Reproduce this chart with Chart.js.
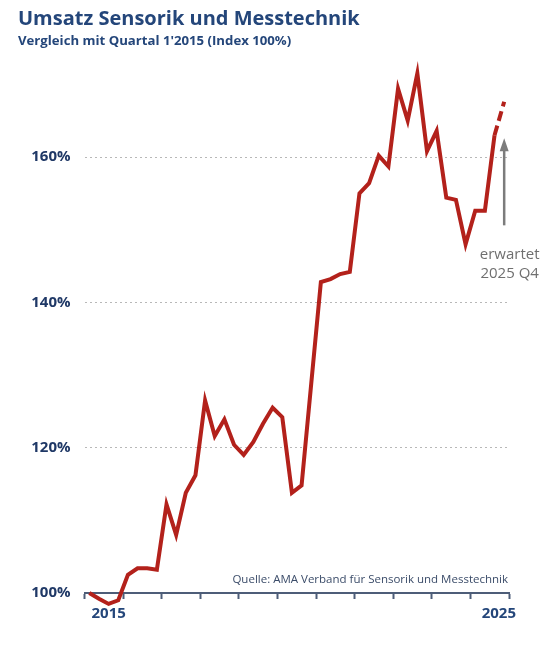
<!DOCTYPE html>
<html>
<head>
<meta charset="utf-8">
<script src="https://cdn.jsdelivr.net/npm/chart.js@4"></script>
<style>
  html, body { margin: 0; padding: 0; background: #fff; }
  #wrap { width: 540px; height: 651px; position: relative; }
</style>
</head>
<body>
<div id="wrap"><canvas id="umsatz"></canvas></div>
<script>
// Quartale 2015 Q1 bis 2025 Q4
const quarters = [
  '2015 Q1', '2015 Q2', '2015 Q3', '2015 Q4',
  '2016 Q1', '2016 Q2', '2016 Q3', '2016 Q4',
  '2017 Q1', '2017 Q2', '2017 Q3', '2017 Q4',
  '2018 Q1', '2018 Q2', '2018 Q3', '2018 Q4',
  '2019 Q1', '2019 Q2', '2019 Q3', '2019 Q4',
  '2020 Q1', '2020 Q2', '2020 Q3', '2020 Q4',
  '2021 Q1', '2021 Q2', '2021 Q3', '2021 Q4',
  '2022 Q1', '2022 Q2', '2022 Q3', '2022 Q4',
  '2023 Q1', '2023 Q2', '2023 Q3', '2023 Q4',
  '2024 Q1', '2024 Q2', '2024 Q3', '2024 Q4',
  '2025 Q1', '2025 Q2', '2025 Q3', '2025 Q4'
];

// Umsatzindex, Q1 2015 = 100
const indexValues = [
  100.0, 99.2, 98.5, 99.0,
  102.5, 103.4, 103.4, 103.2,
  112.2, 108.0, 113.8, 116.2,
  126.5, 121.6, 123.9, 120.4,
  119.0, 120.8, 123.3, 125.5,
  124.2, 113.8, 114.8, 128.8,
  142.8, 143.2, 143.9, 144.2,
  155.0, 156.4, 160.2, 158.7,
  169.4, 165.0, 171.5, 160.8,
  163.6, 154.4, 154.1, 148.0,
  152.6, 152.6, 163.0, 167.6
];

const forecastQuarter = '2025 Q4';

const yTicks = [100, 120, 140, 160];
// Jahresgrenzen auf der x-Achse, beschriftet nur am Anfang und Ende
const years = [2015, 2016, 2017, 2018, 2019, 2020, 2021, 2022, 2023, 2024, 2025, 2026];
const yearLabels = ['2015', '', '', '', '', '', '', '', '', '', '', '2025'];

const arrowFrom = 150.6;
const arrowTo = 162.6;

const navy = '#24467a';
const red = '#b3211b';
const grey = '#6f6f6f';

const forecastIdx = quarters.indexOf(forecastQuarter);

// Pfeil, "erwartet"-Hinweis und Quelle
const notes = {
  id: 'notes',
  afterDatasetsDraw(chart) {
    const {ctx, chartArea, scales: {x, y}} = chart;
    const ax = x.getPixelForValue(forecastIdx);
    const yb = y.getPixelForValue(arrowFrom);
    const yt = y.getPixelForValue(arrowTo);
    ctx.save();
    ctx.strokeStyle = '#7c7c7c';
    ctx.fillStyle = '#7c7c7c';
    ctx.lineWidth = 2.5;
    ctx.beginPath();
    ctx.moveTo(ax, yb);
    ctx.lineTo(ax, yt + 10);
    ctx.stroke();
    ctx.beginPath();
    ctx.moveTo(ax, yt);
    ctx.lineTo(ax - 4.5, yt + 13);
    ctx.lineTo(ax + 4.5, yt + 13);
    ctx.closePath();
    ctx.fill();

    ctx.fillStyle = grey;
    ctx.font = '15px "Open Sans"';
    ctx.textAlign = 'center';
    ctx.textBaseline = 'middle';
    ctx.fillText('erwartet', ax + 5.5, yb + 29);
    ctx.fillText('2025 Q4', ax + 5.5, yb + 48);

    ctx.fillStyle = '#3b4c69';
    ctx.font = '11.5px "Open Sans"';
    ctx.textAlign = 'right';
    ctx.fillText('Quelle: AMA Verband für Sensorik und Messtechnik', chartArea.right - 1, chartArea.bottom - 13);
    ctx.restore();
  }
};

new Chart(document.getElementById('umsatz'), {
  type: 'line',
  data: {
    datasets: [{
      label: 'Umsatzindex',
      data: indexValues.map((v, i) => ({x: i, y: v})),
      borderColor: red,
      borderWidth: 4,
      tension: 0,
      pointRadius: 0,
      pointHoverRadius: 0,
      borderJoinStyle: 'miter',
      borderCapStyle: 'butt',
      clip: false,
      segment: {
        borderDash: ctx => ctx.p1DataIndex === forecastIdx ? [10, 5] : undefined
      }
    }]
  },
  options: {
    responsive: true,
    maintainAspectRatio: false,
    animation: false,
    layout: { padding: { left: 18, right: 31, top: 0, bottom: 22 } },
    plugins: {
      legend: { display: false },
      tooltip: { enabled: false },
      title: {
        display: true,
        text: 'Umsatz Sensorik und Messtechnik',
        align: 'start',
        color: navy,
        font: { family: 'Open Sans', size: 20, weight: 'bold' },
        padding: { top: 7, bottom: 2 }
      },
      subtitle: {
        display: true,
        text: "Vergleich mit Quartal 1'2015 (Index 100%)",
        align: 'start',
        color: navy,
        font: { family: 'Open Sans', size: 13.2, weight: 'bold' },
        padding: { top: 0, bottom: 21 }
      }
    },
    scales: {
      x: {
        type: 'linear',
        min: -0.5,
        max: 43.5,
        afterBuildTicks: s => { s.ticks = years.map(yr => ({value: (yr - 2015) * 4 - 0.5})); },
        ticks: {
          align: 'inner',
          labelOffset: 7,
          padding: 6,
          autoSkip: false,
          maxRotation: 0,
          color: navy,
          font: { family: 'Open Sans', size: 15, weight: 'bold' },
          callback: (v, i) => yearLabels[i]
        },
        grid: {
          drawOnChartArea: false,
          drawTicks: true,
          tickLength: 6,
          tickWidth: 2,
          tickColor: '#4d5d78'
        },
        border: { display: true, color: '#4d5d78', width: 2 }
      },
      y: {
        min: 100,
        max: 172,
        afterBuildTicks: s => { s.ticks = yTicks.map(v => ({value: v})); },
        afterFit: s => { s.width = 66.5; },
        ticks: {
          padding: 14,
          color: '#1f3866',
          font: { family: 'Open Sans', size: 15, weight: 'bold' },
          callback: v => v + '%'
        },
        grid: {
          drawTicks: false,
          color: ctx => ctx.tick && ctx.tick.value === 100 ? 'rgba(0,0,0,0)' : '#b8b8b8',
          lineWidth: 1
        },
        border: { display: false, dash: [2, 3] }
      }
    }
  },
  plugins: [notes]
});
</script>
</body>
</html>
